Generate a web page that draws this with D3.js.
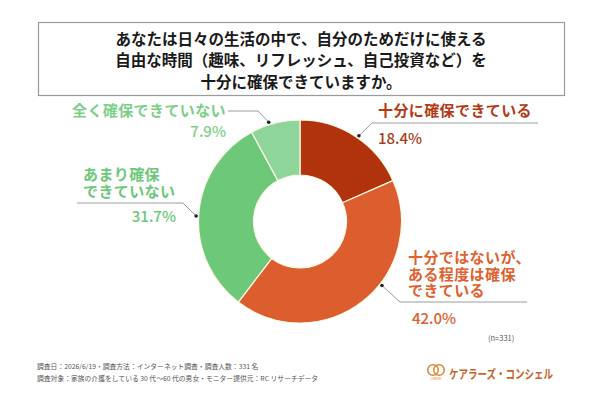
<!DOCTYPE html>
<html lang="ja">
<head>
<meta charset="UTF-8">
<title>自分のための時間</title>
<script src="https://d3js.org/d3.v7.min.js"></script>
<style>
  body { margin: 0; background: #fff; }
  svg text { font-family: "Noto Sans CJK JP", "Noto Sans", sans-serif; }
</style>
</head>
<body>
<div id="chart"></div>
<script>
// data
const categories = ["十分に確保できている", "十分ではないが、ある程度は確保できている", "あまり確保できていない", "全く確保できていない"];
const values = [18.4, 42.0, 31.7, 7.9];
const sliceColors = ["#b1330d", "#dc5d2e", "#6dc979", "#8dd598"];
const textColors = ["#b33a14", "#e0602f", "#6cc778", "#7ccf88"];
const labelLines = [["十分に確保できている"], ["十分ではないが、", "ある程度は確保", "できている"], ["あまり確保", "できていない"], ["全く確保できていない"]];
const titleLines = ["あなたは日々の生活の中で、自分のためだけに使える", "自由な時間（趣味、リフレッシュ、自己投資など）を", "十分に確保できていますか。"];
const footerLines = ["調査日：2026/6/19・調査方法：インターネット調査・調査人数：331 名", "調査対象：家族の介護をしている 30 代～60 代の男女・モニター提供元：RC リサーチデータ"];
const sampleNote = "(n=331)";
const brand = "ケアラーズ・コンシェル";

const W = 600, H = 401;
const cx = 300, cy = 221.5, R = 101.5, r = 46.5;

const svg = d3.select("#chart").append("svg")
  .attr("width", W).attr("height", H);

svg.append("rect").attr("width", W).attr("height", H).attr("fill", "#fff");

// title box
svg.append("rect")
  .attr("x", 38.5).attr("y", 22.5).attr("width", 526).attr("height", 73)
  .attr("fill", "#fff").attr("stroke", "#9a9a9a").attr("stroke-width", 1.2);

const title = svg.append("text")
  .attr("text-anchor", "middle")
  .attr("font-size", "15.5px").attr("font-weight", 700).attr("fill", "#1a1a1a");
title.selectAll("tspan").data(titleLines).enter().append("tspan")
  .attr("x", 301).attr("y", (d, i) => 44.5 + i * 21.5)
  .text(d => d);

// donut
const pie = d3.pie().sort(null).value(d => d);
const arcs = pie(values);
const arc = d3.arc().innerRadius(r).outerRadius(R);

const g = svg.append("g").attr("transform", `translate(${cx},${cy})`);
g.selectAll("path").data(arcs).enter().append("path")
  .attr("d", arc)
  .attr("fill", (d, i) => sliceColors[i])
  .attr("stroke", "#fbf8e4").attr("stroke-width", 1.2);

// label layout: dot angle (deg from top), elbow, line end, text
const layout = [
  { ang: 34.5, elbow: [372, 123], end: 538, tx: 378, ty: [111], px: 378, py: 137, anchor: "start" },
  { ang: 128, elbow: [400, 302], end: 527, tx: 408, ty: [258, 274.5, 291], px: 412, py: 317, anchor: "start" },
  { ang: 273, elbow: [183, 203], end: 77, tx: 83, ty: [175, 191.5], px: 176, py: 215, anchor: "end" },
  { ang: 342.5, elbow: [258, 111], end: 228, tx: 72, ty: [111], px: 226, py: 130, anchor: "end" }
];

const dotR = 104;
layout.forEach((L, i) => {
  const a = L.ang * Math.PI / 180;
  const dx = cx + dotR * Math.sin(a), dy = cy - dotR * Math.cos(a);
  svg.append("path")
    .attr("d", d3.line()([[dx, dy], L.elbow, [L.end, L.elbow[1]]]))
    .attr("fill", "none").attr("stroke", "#9c9c9c").attr("stroke-width", 1);
  svg.append("circle").attr("cx", dx).attr("cy", dy).attr("r", 1.8).attr("fill", "#222");

  const t = svg.append("text")
    .attr("font-size", "15px").attr("font-weight", 700)
    .attr("letter-spacing", "0.4px")
    .attr("fill", textColors[i]);
  t.selectAll("tspan").data(labelLines[i]).enter().append("tspan")
    .attr("x", L.tx).attr("y", (d, j) => L.ty[j] + 5.3)
    .text(d => d);

  svg.append("text")
    .attr("x", L.px).attr("y", L.py)
    .attr("text-anchor", L.anchor).attr("dominant-baseline", "central")
    .attr("font-family", "'Noto Sans', sans-serif")
    .attr("font-size", "15px").attr("font-weight", 500)
    .attr("fill", i === 0 ? "#a8401c" : textColors[i])
    .text(d3.format(".1f")(values[i]) + "%");
});

// n note
svg.append("text")
  .attr("x", 488).attr("y", 337).attr("dominant-baseline", "central")
  .attr("font-size", "7.5px").attr("fill", "#555")
  .text(sampleNote);

// footer
const foot = svg.append("text")
  .attr("font-size", "6.8px").attr("fill", "#555");
foot.selectAll("tspan").data(footerLines).enter().append("tspan")
  .attr("x", 37).attr("y", (d, i) => 368.5 + i * 12.5)
  .text(d => d);

// brand logo
const logo = svg.append("g").attr("transform", "translate(436,370)");
logo.append("circle").attr("cx", -3).attr("cy", 0).attr("r", 5.3)
  .attr("fill", "none").attr("stroke", "#d98a3e").attr("stroke-width", 1.6);
logo.append("circle").attr("cx", 3).attr("cy", 0).attr("r", 5.3)
  .attr("fill", "none").attr("stroke", "#d98a3e").attr("stroke-width", 1.6);
logo.append("text").attr("x", 0).attr("y", 10).attr("text-anchor", "middle")
  .attr("font-size", "3px").attr("fill", "#d98a3e").text("CARERS");

svg.append("text")
  .attr("x", 449).attr("y", 373).attr("dominant-baseline", "central")
  .attr("font-size", "12.5px").attr("font-weight", 700).attr("fill", "#c8642a")
  .attr("textLength", 104).attr("lengthAdjust", "spacingAndGlyphs")
  .text(brand);
</script>
</body>
</html>
